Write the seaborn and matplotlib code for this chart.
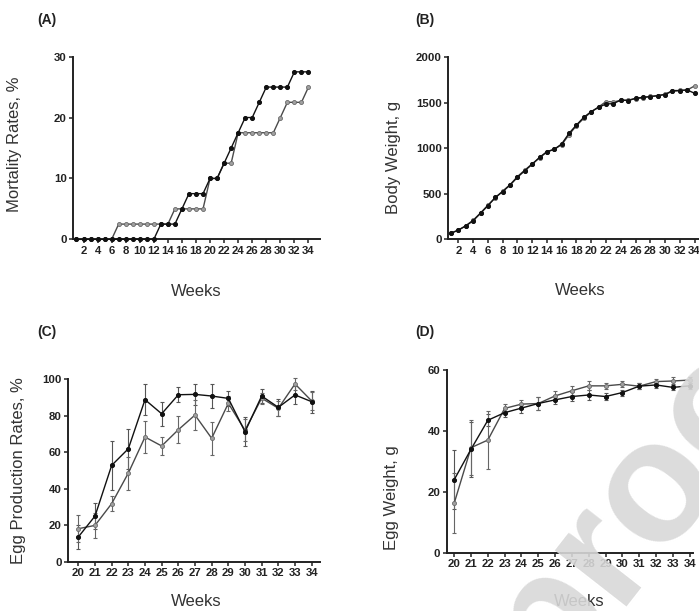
import matplotlib
matplotlib.use("Agg")
import matplotlib.pyplot as plt
import seaborn as sns

# Weeks
weeks_all = list(range(1, 35))
weeks_lay = list(range(20, 35))

# (A) Mortality rates, %
mort_black = [0, 0, 0, 0, 0, 0, 0, 0, 0, 0, 0, 0, 2.5, 2.5, 2.5, 5, 7.5, 7.5, 7.5,
              10, 10, 12.5, 15, 17.5, 20, 20, 22.5, 25, 25, 25, 25, 27.5, 27.5, 27.5]
mort_grey = [0, 0, 0, 0, 0, 0, 2.5, 2.5, 2.5, 2.5, 2.5, 2.5, 2.5, 2.5, 5, 5, 5, 5, 5,
             10, 10, 12.5, 12.5, 17.5, 17.5, 17.5, 17.5, 17.5, 17.5, 20, 22.5, 22.5, 22.5, 25]

# (B) Body weight, g
bw_black = [66, 103, 147, 205, 286, 370, 461, 524, 597, 681, 755, 824, 901, 963, 989, 1048,
            1165, 1256, 1341, 1403, 1450, 1487, 1490, 1531, 1524, 1549, 1560, 1568, 1579,
            1590, 1634, 1634, 1641, 1604]
bw_grey = [70, 100, 150, 210, 290, 375, 455, 530, 600, 690, 760, 830, 895, 960, 990, 1040,
           1150, 1250, 1330, 1400, 1455, 1513, 1510, 1525, 1530, 1545, 1555, 1570, 1575,
           1595, 1625, 1635, 1640, 1685]

# (C) Egg production rates, % (mean, sd)
ep_black = [13.7, 25.1, 52.8, 61.9, 88.7, 81.0, 91.4, 91.6, 90.7, 89.4, 71.2, 90.7, 84.5, 91.3, 87.6]
ep_black_sd = [6.5, 7, 13.5, 11, 8.6, 6.5, 4, 5.6, 6.6, 4, 8, 3.6, 4.5, 5, 6]
ep_grey = [18.2, 20.0, 31.9, 48.6, 68.3, 63.4, 72.3, 80.3, 67.6, 86.7, 72.0, 89.5, 84.0, 97.3, 88.0]
ep_grey_sd = [7.5, 7, 4, 9, 8.5, 4.8, 7.5, 8, 9, 4, 6, 3, 4, 3.5, 5]

# (D) Egg weight, g (mean, sd)
ew_black = [24.0, 34.0, 43.5, 46.0, 47.5, 49.0, 50.2, 51.3, 51.8, 51.3, 52.6, 54.7, 55.1, 54.3, 54.8]
ew_black_sd = [9.8, 9, 2, 1.5, 1.5, 2, 1.5, 1.5, 1.5, 1, 1, 1, 1, 1, 1]
ew_grey = [16.3, 34.5, 37.0, 47.4, 48.8, 49.0, 51.5, 53.2, 54.8, 54.8, 55.3, 54.7, 56.2, 56.4, 56.7]
ew_grey_sd = [9.8, 9, 9.5, 1.5, 1.5, 2, 1.5, 1.5, 1.5, 1, 1, 1, 1, 1.2, 1]

sns.set_style("ticks")
plt.rcParams["font.family"] = ["Liberation Sans", "DejaVu Sans"]

BLACK = "#111111"
GREY_LINE = "#4a4a4a"
GREY_FACE = "#a0a0a0"


def draw_pair(ax, x, y1, y2, sd1=None, sd2=None):
    if sd1 is not None:
        ax.errorbar(x, y1, yerr=sd1, fmt="none", ecolor="#555555", elinewidth=0.8,
                    capsize=1.6, capthick=0.8, clip_on=False, zorder=2)
        ax.errorbar(x, y2, yerr=sd2, fmt="none", ecolor="#666666", elinewidth=0.8,
                    capsize=1.6, capthick=0.8, clip_on=False, zorder=2)
    sns.lineplot(x=x, y=y2, ax=ax, color=GREY_LINE, linewidth=1.0, marker="o",
                 markersize=2.9, markerfacecolor=GREY_FACE, markeredgecolor="#6a6a6a",
                 markeredgewidth=0.6, clip_on=False, zorder=3)
    sns.lineplot(x=x, y=y1, ax=ax, color=BLACK, linewidth=1.0, marker="o",
                 markersize=2.9, markerfacecolor=BLACK, markeredgecolor=BLACK,
                 clip_on=False, zorder=4)


def style_axis(ax, ylabel, lab_x, lab_y, wk_x, wk_y):
    sns.despine(ax=ax)
    for s in ("left", "bottom"):
        ax.spines[s].set_linewidth(1.4)
        ax.spines[s].set_color("#222222")
    ax.tick_params(axis="both", length=3, width=1.1, labelsize=8.2, pad=1.5,
                   colors="#222222")
    for t in ax.get_xticklabels() + ax.get_yticklabels():
        t.set_fontweight("bold")
    ax.set_ylabel(ylabel, fontsize=12, color="#333333")
    ax.yaxis.label.set_va("center")
    ax.yaxis.set_label_coords(lab_x, lab_y)
    ax.set_xlabel("Weeks", fontsize=12, color="#333333")
    ax.xaxis.label.set_va("center")
    ax.xaxis.set_label_coords(wk_x, wk_y)


fig = plt.figure(figsize=(6.99, 6.11), dpi=100)

# (A)
axA = fig.add_axes([0.1044, 0.6083, 0.353, 0.299])
draw_pair(axA, weeks_all, mort_black, mort_grey)
axA.set_xlim(0.5, 35.6)
axA.set_ylim(0, 30)
axA.set_yticks([0, 10, 20, 30])
axA.set_xticks(list(range(2, 35, 2)))
style_axis(axA, "Mortality Rates, %", -0.235, 0.52, 0.5, -0.283)

# (B)
axB = fig.add_axes([0.641, 0.6083, 0.359, 0.298])
draw_pair(axB, weeks_all, bw_black, bw_grey)
axB.set_xlim(0.6, 34.6)
axB.set_ylim(0, 2000)
axB.set_yticks([0, 500, 1000, 1500, 2000])
axB.set_xticks(list(range(2, 35, 2)))
style_axis(axB, "Body Weight, g", -0.219, 0.45, 0.525, -0.28)

# (C)
axC = fig.add_axes([0.0973, 0.0802, 0.3605, 0.2995])
draw_pair(axC, weeks_lay, ep_black, ep_grey, ep_black_sd, ep_grey_sd)
axC.set_xlim(19.38, 34.5)
axC.set_ylim(0, 100)
axC.set_yticks([0, 20, 40, 60, 80, 100])
axC.set_xticks(weeks_lay)
style_axis(axC, "Egg Production Rates, %", -0.198, 0.5, 0.507, -0.217)

# (D)
axD = fig.add_axes([0.639, 0.0954, 0.3524, 0.299])
draw_pair(axD, weeks_lay, ew_black, ew_grey, ew_black_sd, ew_grey_sd)
axD.set_xlim(19.55, 34.2)
axD.set_ylim(0, 60)
axD.set_yticks([0, 20, 40, 60])
axD.set_xticks(weeks_lay)
style_axis(axD, "Egg Weight, g", -0.223, 0.30, 0.54, -0.268)

# panel letters
for lab, px, py in [("(A)", 37, 20), ("(B)", 415, 20), ("(C)", 37, 332), ("(D)", 415, 332)]:
    fig.text(px / 699, 1 - py / 611, lab, fontsize=10, fontweight="bold",
             ha="left", va="center", color="#222222")

# watermark
fig.text(652 / 699, 1 - 488 / 611, "proof", fontsize=124, fontweight="bold",
         color="#d8d8d8", alpha=0.9, rotation=52, ha="center", va="center", zorder=20)

fig.savefig("out.png", dpi=100)
